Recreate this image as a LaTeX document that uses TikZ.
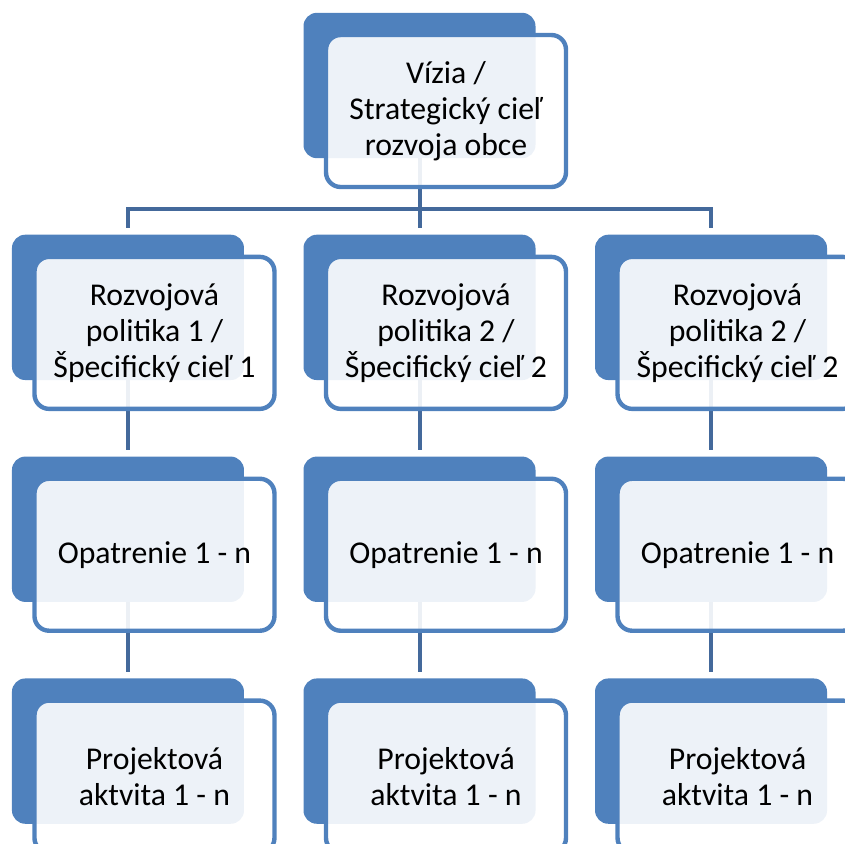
\documentclass[tikz,border=0pt]{standalone}
\usepackage{fontspec}
\setmainfont{Carlito}
\usetikzlibrary{positioning}
\definecolor{boxblue}{HTML}{4F81BD}
\definecolor{lineblue}{HTML}{44699B}

\begin{document}
\begin{tikzpicture}[x=0.75pt, y=-0.75pt, node distance=57pt and 44.25pt,
    backbox/.style={rectangle, rounded corners=10pt, fill=boxblue, minimum width=174pt, minimum height=109pt, inner sep=0pt},
    frontbox/.style={rectangle, rounded corners=11pt, draw=boxblue, line width=3.3pt, fill=white, fill opacity=0.9, text opacity=1, minimum width=180pt, minimum height=114pt, inner sep=0pt, align=center, font=\fontsize{23.8}{27}\selectfont},
    connector/.style={draw=lineblue, line width=3pt, shorten >=5pt}]
            \useasboundingbox (0,0) rectangle (845,843);
            \clip (0,0) rectangle (845,843);
            % Define back blocks
            \node (visionbg) [backbox] at (419.5,85.5) {};
            \node (policy2bg) [backbox, below=of visionbg] {};
            \node (policy1bg) [backbox, left=of policy2bg] {};
            \node (policy3bg) [backbox, right=of policy2bg] {};
            \node (measure1bg) [backbox, below=of policy1bg] {};
            \node (measure2bg) [backbox, below=of policy2bg] {};
            \node (measure3bg) [backbox, below=of policy3bg] {};
            \node (project1bg) [backbox, below=of measure1bg] {};
            \node (project2bg) [backbox, below=of measure2bg] {};
            \node (project3bg) [backbox, below=of measure3bg] {};

            % Draw connectors
            \coordinate (bar) at (419.5,209);
            \draw[connector] (visionbg.south) -- (policy2bg.north);
            \draw[connector, shorten <=5pt] (policy1bg.north) |- (bar) -| (policy3bg.north);
            \draw[connector] (policy1bg.south) -- (measure1bg.north);
            \draw[connector] (policy2bg.south) -- (measure2bg.north);
            \draw[connector] (policy3bg.south) -- (measure3bg.north);
            \draw[connector] (measure1bg.south) -- (project1bg.north);
            \draw[connector] (measure2bg.south) -- (project2bg.north);
            \draw[connector] (measure3bg.south) -- (project3bg.north);

            % Front blocks with texts
            \node (vision) [frontbox] at ([shift={(26.5,25.5)}]visionbg.center) {Vízia /\\Strategický cieľ\\rozvoja obce};
            \node (policy1) [frontbox] at ([shift={(26.5,25.5)}]policy1bg.center) {Rozvojová\\politika 1 /\\Špecifický cieľ 1};
            \node (policy2) [frontbox] at ([shift={(26.5,25.5)}]policy2bg.center) {Rozvojová\\politika 2 /\\Špecifický cieľ 2};
            \node (policy3) [frontbox] at ([shift={(26.5,25.5)}]policy3bg.center) {Rozvojová\\politika 2 /\\Špecifický cieľ 2};
            \node (measure1) [frontbox] at ([shift={(26.5,25.5)}]measure1bg.center) {Opatrenie 1 - n};
            \node (measure2) [frontbox] at ([shift={(26.5,25.5)}]measure2bg.center) {Opatrenie 1 - n};
            \node (measure3) [frontbox] at ([shift={(26.5,25.5)}]measure3bg.center) {Opatrenie 1 - n};
            \node (project1) [frontbox] at ([shift={(26.5,25.5)}]project1bg.center) {Projektová\\aktvita 1 - n};
            \node (project2) [frontbox] at ([shift={(26.5,25.5)}]project2bg.center) {Projektová\\aktvita 1 - n};
            \node (project3) [frontbox] at ([shift={(26.5,25.5)}]project3bg.center) {Projektová\\aktvita 1 - n};
        \end{tikzpicture}
\end{document}
